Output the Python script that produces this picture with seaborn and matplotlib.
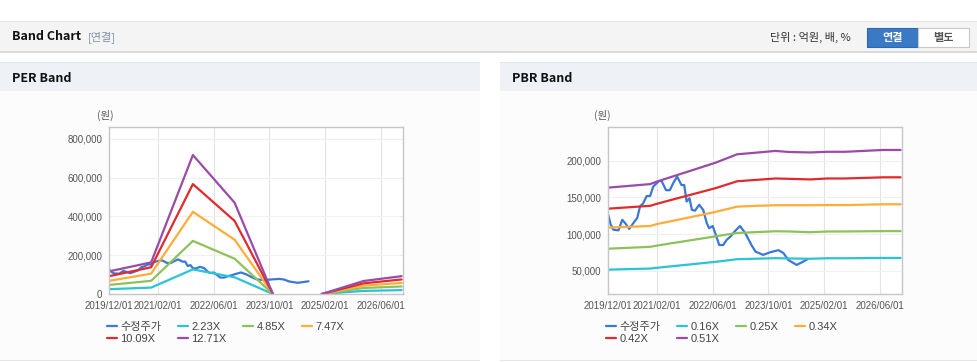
import numpy as np
import pandas as pd
import seaborn as sns
import matplotlib.pyplot as plt
from matplotlib.patches import Rectangle
from matplotlib.ticker import FuncFormatter

# ---- data ----
# adjusted close price (수정주가), same series on both charts
price_dates = ['2019-12-01', '2019-12-22', '2020-01-13', '2020-02-28', '2020-04-01',
               '2020-05-01', '2020-06-01', '2020-07-07', '2020-08-10', '2020-09-04',
               '2020-10-01', '2020-11-01', '2020-12-01', '2020-12-28', '2021-02-13',
               '2021-03-10', '2021-04-19', '2021-05-22', '2021-06-22', '2021-07-25',
               '2021-09-01', '2021-09-25', '2021-10-16', '2021-11-10', '2021-12-01',
               '2021-12-28', '2022-02-03', '2022-03-10', '2022-04-10', '2022-05-01',
               '2022-06-01', '2022-06-28', '2022-07-28', '2022-09-01', '2022-10-01',
               '2022-11-06', '2022-12-13', '2023-01-25', '2023-03-10', '2023-04-06',
               '2023-05-06', '2023-06-10', '2023-08-16', '2023-10-16', '2023-12-28',
               '2024-02-10', '2024-03-22', '2024-06-04', '2024-07-16', '2024-09-07']
price_vals = [126000, 113000, 106000, 105000, 119500, 114000, 107000, 115000, 122000, 138000,
              142000, 152000, 152000, 165000, 172000, 173000, 160000, 160000, 170000, 178600,
              167000, 167000, 144500, 149000, 133000, 132000, 140000, 133000, 115000, 108000,
              111000, 99000, 85000, 85000, 92000, 97000, 104000, 111000, 102000, 94000,
              85000, 76000, 71500, 75000, 78000, 74000, 64600, 57800, 61000, 65600]

# PER band (line breaks between index 4 and 5)
per_dates = ['2019-12-01', '2020-12-01', '2021-12-01', '2022-12-01', '2023-11-01',
             '2025-01-01', '2026-01-01', '2026-12-01']
per_break = 5
per_labels = ['2.23X', '4.85X', '7.47X', '10.09X', '12.71X']
per_223 = [25000, 33000, 127000, 86000, 0, 0, 16000, 20000]
per_485 = [47000, 68000, 274000, 182000, 0, 0, 31000, 39000]
per_747 = [68000, 105000, 424000, 280000, 0, 0, 43000, 57000]
per_1009 = [92000, 138000, 567000, 377000, 0, 0, 55000, 75000]
per_1271 = [117000, 163000, 717000, 471000, 0, 0, 67000, 92000]

# PBR band
pbr_dates = ['2019-12-01', '2020-12-01', '2021-02-01', '2021-07-01', '2021-11-01',
             '2022-07-01', '2023-01-01', '2023-06-01', '2023-12-01', '2024-04-01',
             '2024-10-01', '2025-03-01', '2025-08-01', '2026-07-01', '2026-12-01']
pbr_labels = ['0.16X', '0.25X', '0.34X', '0.42X', '0.51X']
pbr_016 = [51300, 52800, 53900, 56300, 58200, 62100, 65600, 66200, 67000, 66600,
           66200, 66900, 66900, 67300, 67300]
pbr_025 = [80000, 82500, 84300, 88000, 91000, 97000, 101500, 102500, 103800, 103500,
           102500, 103500, 103500, 104000, 104000]
pbr_034 = [108800, 111000, 113800, 118500, 122500, 130500, 137500, 138500, 139400, 139400,
           139400, 139600, 139600, 140700, 140700]
pbr_042 = [134700, 138600, 141500, 147800, 152900, 163000, 172200, 173900, 176000, 175500,
           174700, 176000, 176000, 177600, 177600]
pbr_051 = [163500, 168300, 171900, 179500, 185600, 197900, 209100, 211100, 213700, 212200,
           211600, 212500, 212500, 215000, 215000]

tick_dates = ['2019-12-01', '2021-02-01', '2022-06-01', '2023-10-01', '2025-02-01', '2026-06-01']
tick_labels = ['2019/12/01', '2021/02/01', '2022/06/01', '2023/10/01', '2025/02/01', '2026/06/01']

price_color = '#3a78d8'
band_colors = ['#2cc3d4', '#8dc25a', '#ffac38', '#e02a2e', '#9b4aa8']

# ---- figure ----
W, H = 978, 362
sns.set_theme(style='whitegrid')
plt.rcParams['font.family'] = ['Liberation Sans', 'Noto Sans CJK KR']
fig = plt.figure(figsize=(W / 100, H / 100), dpi=100, facecolor='white')


def rect(x0, y0, x1, y1, **kw):
    fig.add_artist(Rectangle((x0 / W, 1 - y1 / H), (x1 - x0) / W, (y1 - y0) / H,
                             transform=fig.transFigure, zorder=-5, **kw))


def ftext(x, y, s, **kw):
    fig.text(x / W, 1 - y / H, s, va='center', **kw)


kr = ['Noto Sans CJK KR', 'DejaVu Sans']

# top header bar
rect(0, 21, W, 52, facecolor='#f4f4f4', edgecolor='none')
rect(0, 21, W, 22, facecolor='#e2e2e2', edgecolor='none')
rect(0, 51, W, 53, facecolor='#dadada', edgecolor='none')
ftext(12, 37, 'Band Chart', fontsize=9, fontweight='bold', color='#111111', family=kr)
ftext(88, 37, '[연결]', fontsize=8, color='#8090a8', family=kr)
ftext(770, 37, '단위 : 억원, 배, %', fontsize=8, color='#333333', family=kr)
rect(867, 28, 918, 46.5, facecolor='#3a79c4', edgecolor='#2f67a8', lw=0.8)
rect(918, 28, 969, 46.5, facecolor='#ffffff', edgecolor='#c8c8c8', lw=0.8)
ftext(892.5, 37, '연결', fontsize=8, color='white', fontweight='bold', ha='center', family=kr)
ftext(943.5, 37, '별도', fontsize=8, color='#555555', fontweight='bold', ha='center', family=kr)

# panels
for px0, px1, title in [(0, 480, 'PER Band'), (500, W, 'PBR Band')]:
    rect(px0, 91, px1, 360, facecolor='#fcfcfc', edgecolor='none')
    rect(px0, 360, px1, 361, facecolor='#e6e6e6', edgecolor='none')
    rect(px0, 62, px1, 91, facecolor='#eef2f7', edgecolor='none')
    rect(px0, 62, px1, 63, facecolor='#e3e7ec', edgecolor='none')
    ftext(px0 + 12, 78, title, fontsize=9, fontweight='bold', color='#111111', family=kr)

ax_per = fig.add_axes([109.3 / W, 1 - 294 / H, 293.4 / W, 166.7 / H])
ax_pbr = fig.add_axes([608.3 / W, 1 - 294 / H, 293.4 / W, 166.7 / H])

price_df = pd.DataFrame({'date': pd.to_datetime(price_dates), 'value': price_vals})

# PER chart
handles = {}
sns.lineplot(data=price_df, x='date', y='value', color=price_color, lw=1.6, ax=ax_per)
handles['수정주가'] = ax_per.lines[-1]
per_x = pd.to_datetime(per_dates)
for name, vals, c in zip(per_labels, [per_223, per_485, per_747, per_1009, per_1271], band_colors):
    for seg in [slice(0, per_break), slice(per_break, None)]:
        sns.lineplot(x=per_x[seg], y=vals[seg], color=c, lw=1.6, ax=ax_per)
        if name not in handles:
            handles[name] = ax_per.lines[-1]
per_handles = handles

# PBR chart
handles = {}
sns.lineplot(data=price_df, x='date', y='value', color=price_color, lw=1.6, ax=ax_pbr)
handles['수정주가'] = ax_pbr.lines[-1]
pbr_x = pd.to_datetime(pbr_dates)
for name, vals, c in zip(pbr_labels, [pbr_016, pbr_025, pbr_034, pbr_042, pbr_051], band_colors):
    sns.lineplot(x=pbr_x, y=vals, color=c, lw=1.6, ax=ax_pbr)
    handles[name] = ax_pbr.lines[-1]
pbr_handles = handles


def style(ax, yticks, ylim, hnd, labels, lx):
    ax.set_facecolor('white')
    ax.set_xlim(pd.Timestamp('2019-12-01'), pd.Timestamp('2026-12-10'))
    ax.set_ylim(*ylim)
    ax.set_xticks(pd.to_datetime(tick_dates), tick_labels)
    ax.set_yticks(yticks)
    ax.yaxis.set_major_formatter(FuncFormatter(lambda v, p: f'{v:,.0f}'))
    ax.tick_params(length=0, labelsize=7, colors='#555555', pad=5)
    ax.xaxis.grid(True, color='#e3e3e3', lw=0.8)
    ax.yaxis.grid(True, color='#f0f0f0', lw=0.8)
    for s in ax.spines.values():
        s.set_color('#c6c6c6')
        s.set_linewidth(1)
    ax.set_xlabel('')
    ax.set_ylabel('')
    # legend filled row by row like the reference
    order = ['수정주가', labels[3], labels[0], labels[4], labels[1], labels[2]]
    ax.legend([hnd[k] for k in order], order, ncol=4, loc='upper left',
              bbox_to_anchor=(lx / W, 1 - 322 / H), bbox_transform=fig.transFigure,
              frameon=False, fontsize=8, handlelength=0.9, handletextpad=0.3,
              columnspacing=1.5, labelspacing=0.15, borderpad=0, borderaxespad=0,
              labelcolor='#444444')


style(ax_per, [0, 200000, 400000, 600000, 800000], (0, 860000), per_handles, per_labels, 107)
style(ax_pbr, [50000, 100000, 150000, 200000], (18000, 246000), pbr_handles, pbr_labels, 606)

ftext(105, 115, '(원)', fontsize=7.5, color='#555555', ha='center', family=kr)
ftext(602, 115, '(원)', fontsize=7.5, color='#555555', ha='center', family=kr)

fig.savefig('out.png', dpi=100, facecolor='white')
